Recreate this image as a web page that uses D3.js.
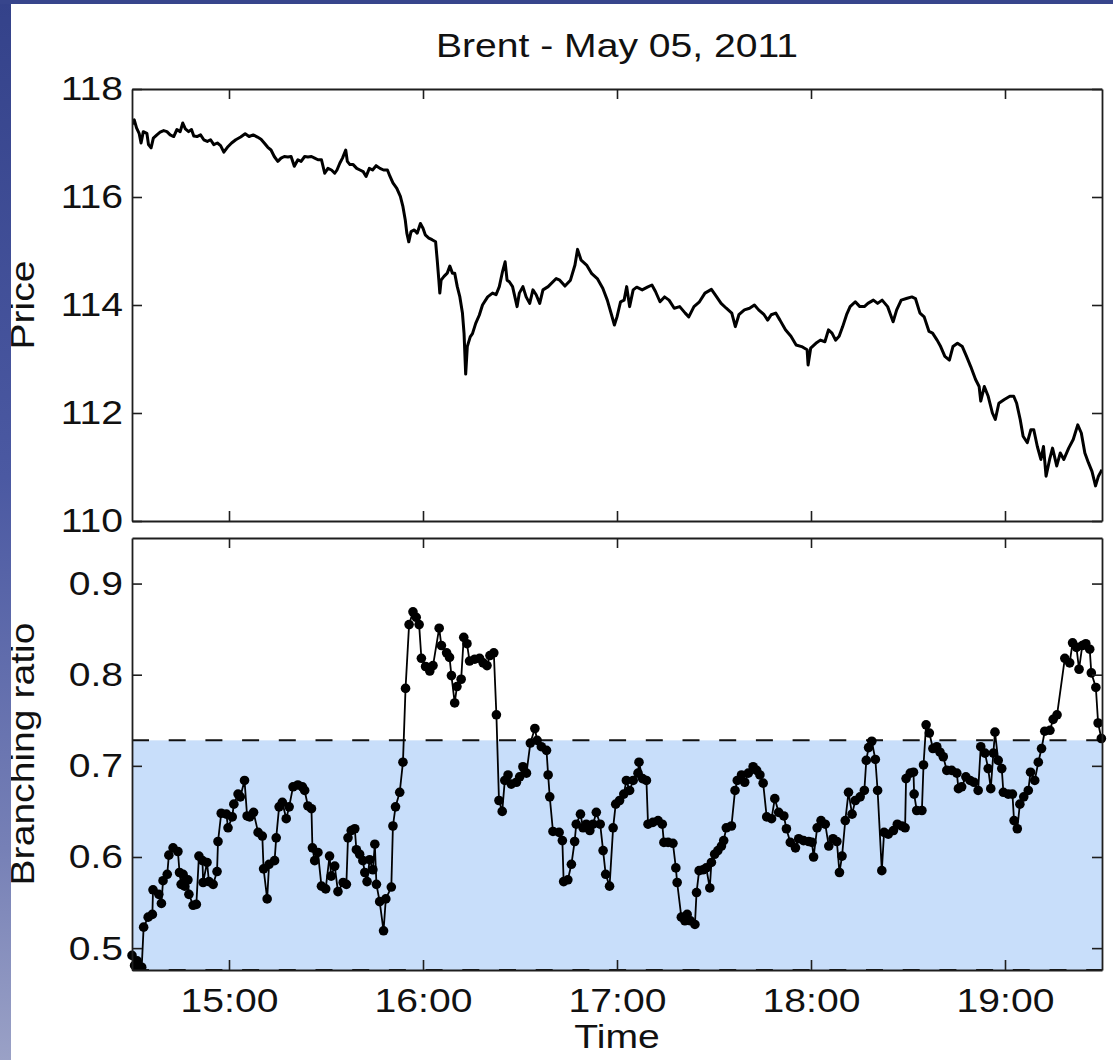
<!DOCTYPE html>
<html>
<head>
<meta charset="utf-8">
<script src="https://cdn.jsdelivr.net/npm/d3@7"></script>
<style>
  html, body { margin: 0; padding: 0; background: #ffffff; }
  svg { display: block; }
  text { font-family: "Liberation Sans", Arial, Helvetica, sans-serif; fill: #111; }
</style>
</head>
<body>
<svg id="chart" width="1113" height="1060"></svg>
<script>
// ---- data -------------------------------------------------------------
// Brent futures price, sampled in minutes after 14:30
const priceMinutes = [
  0, 0.7, 1.4, 2.2, 2.8, 3.5, 4.6, 5.1, 5.9, 6.6, 7.7, 8.7, 9.8, 10.8, 11.8, 12.9, 13.9, 14.9, 15.7, 16.5,
  17.5, 18.4, 19.1, 20.1, 21.2, 22.2, 23.3, 24.3, 25.3, 26.4, 27.4, 28.4, 29.5, 30.8, 32.1, 33.6, 35.0, 36.2, 37.5, 38.8,
  39.9, 40.9, 42.0, 43.0, 44.0, 45.1, 46.1, 47.1, 48.2, 49.2, 50.2, 51.3, 52.3, 53.4, 54.4, 55.5, 56.5, 57.5, 58.6, 59.6,
  60.6, 61.7, 62.7, 63.4, 64.3, 65.1, 66.1, 66.6, 67.4, 68.4, 69.5, 70.5, 71.5, 72.4, 73.4, 74.4, 75.5, 76.7, 77.8, 79.0,
  79.8, 80.7, 81.9, 83.0, 83.8, 84.5, 85.0, 85.6, 86.3, 87.3, 88.2, 89.2, 90.0, 90.7, 91.8, 92.8, 93.9, 94.4, 94.9, 95.2,
  95.6, 96.5, 97.5, 98.3, 99.1, 99.8, 100.6, 101.4, 102.2, 102.7, 103.2, 103.7, 104.6, 105.3, 106.3, 107.4, 108.4, 110.0, 111.5, 112.6,
  113.6, 114.6, 115.4, 116.0, 116.7, 117.7, 119.1, 119.8, 120.9, 121.9, 123.0, 124.0, 125.0, 126.1, 127.1, 128.7, 131.2, 132.3, 133.9, 135.6,
  137.0, 137.8, 138.9, 140.6, 142.2, 143.9, 145.6, 147.0, 148.3, 149.2, 150.0, 151.1, 152.2, 153.0, 153.9, 155.0, 156.1, 157.8, 159.4, 160.8,
  161.9, 163.3, 164.7, 166.1, 167.7, 169.4, 171.1, 172.2, 173.8, 175.5, 177.2, 179.2, 180.5, 182.2, 183.8, 185.5, 186.6, 187.7, 189.4, 191.0,
  192.5, 193.8, 195.5, 196.6, 197.7, 199.1, 200.4, 202.1, 203.8, 205.4, 207.1, 208.8, 209.1, 209.9, 211.5, 212.9, 214.3, 215.4, 216.5, 217.6,
  218.7, 219.8, 221.0, 222.1, 223.7, 225.1, 226.5, 227.6, 229.3, 230.6, 232.0, 233.7, 235.4, 236.5, 237.9, 239.5, 241.2, 242.3, 243.7, 245.0,
  246.5, 247.6, 249.0, 250.1, 251.4, 252.8, 253.9, 255.3, 256.8, 258.1, 259.4, 260.9, 262.0, 262.5, 263.6, 264.8, 266.1, 267.0, 268.1, 269.8,
  271.5, 272.7, 273.6, 274.7, 275.6, 276.9, 278.0, 278.9, 280.0, 281.1, 281.9, 282.7, 283.8, 284.7, 286.0, 287.1, 288.2, 289.7, 291.1, 292.5,
  293.6, 294.7, 295.8, 296.9, 298.0, 298.9, 300.0
];
const priceValues = [
  117.34, 117.43, 117.28, 117.18, 117.00, 117.21, 117.18, 116.97, 116.91, 117.09, 117.15, 117.20, 117.23, 117.21, 117.15, 117.12, 117.25, 117.21, 117.37, 117.26,
  117.21, 117.25, 117.13, 117.12, 117.15, 117.06, 117.03, 117.06, 116.97, 117.00, 116.95, 116.83, 116.92, 117.00, 117.06, 117.11, 117.17, 117.12, 117.15, 117.11,
  117.07, 117.00, 116.92, 116.87, 116.75, 116.66, 116.72, 116.75, 116.74, 116.75, 116.57, 116.69, 116.66, 116.75, 116.74, 116.75, 116.72, 116.69, 116.69, 116.44,
  116.53, 116.50, 116.44, 116.50, 116.63, 116.72, 116.87, 116.66, 116.60, 116.60, 116.53, 116.50, 116.47, 116.38, 116.53, 116.50, 116.58, 116.53, 116.50, 116.50,
  116.38, 116.26, 116.16, 116.01, 115.82, 115.58, 115.33, 115.17, 115.36, 115.39, 115.33, 115.51, 115.42, 115.30, 115.24, 115.21, 115.17, 114.83, 114.46, 114.22,
  114.46, 114.53, 114.59, 114.72, 114.59, 114.59, 114.34, 114.15, 113.85, 113.47, 112.72, 113.23, 113.41, 113.47, 113.66, 113.81, 114.00, 114.15, 114.22, 114.19,
  114.34, 114.62, 114.80, 114.46, 114.43, 114.34, 113.97, 114.22, 114.34, 114.15, 114.03, 114.28, 114.19, 114.03, 114.28, 114.34, 114.49, 114.46, 114.35, 114.46,
  114.74, 115.03, 114.83, 114.74, 114.58, 114.49, 114.31, 114.09, 113.82, 113.63, 113.78, 114.06, 114.09, 114.34, 113.97, 114.28, 114.33, 114.28, 114.33, 114.37,
  114.25, 114.06, 114.15, 114.09, 113.94, 113.97, 113.85, 113.78, 113.97, 114.06, 114.22, 114.29, 114.18, 114.03, 113.94, 113.85, 113.60, 113.82, 113.91, 113.94,
  114.00, 113.91, 113.82, 113.72, 113.82, 113.85, 113.72, 113.54, 113.42, 113.26, 113.23, 113.17, 112.89, 113.20, 113.29, 113.35, 113.32, 113.54, 113.48, 113.35,
  113.42, 113.60, 113.82, 113.97, 114.06, 113.97, 113.97, 114.03, 114.09, 114.03, 114.09, 113.97, 113.69, 113.91, 114.09, 114.12, 114.15, 114.12, 113.85, 113.78,
  113.51, 113.48, 113.35, 113.23, 113.05, 112.98, 113.23, 113.29, 113.23, 113.05, 112.86, 112.62, 112.49, 112.22, 112.49, 112.31, 112.00, 111.88, 112.18, 112.25,
  112.31, 112.31, 112.18, 111.88, 111.57, 111.45, 111.69, 111.69, 111.38, 111.14, 111.38, 110.83, 111.14, 111.35, 111.02, 111.26, 111.14, 111.35, 111.51, 111.78,
  111.63, 111.26, 111.08, 110.92, 110.65, 110.83, 110.95
];

// Estimated branching ratio, minutes after 14:30
const branchMinutes = [
  0.0, 0.8, 1.6, 2.4, 3.0, 3.6, 5.0, 6.3, 6.5, 8.3, 9.1, 9.6, 10.9, 11.4, 12.7, 14.2, 14.7, 15.2, 15.8, 16.3,
  17.3, 17.6, 18.9, 19.9, 20.7, 21.8, 22.0, 23.2, 23.8, 25.1, 26.3, 26.6, 27.6, 29.2, 29.7, 31.0, 31.5, 32.8, 33.5, 34.8,
  35.6, 36.4, 37.6, 39.0, 40.3, 40.7, 41.8, 42.4, 44.1, 44.6, 45.5, 46.5, 47.7, 48.6, 49.8, 51.3, 52.7, 53.4, 54.4, 55.5,
  55.8, 56.5, 57.5, 58.6, 59.9, 61.1, 61.6, 62.7, 63.7, 65.3, 66.3, 66.8, 67.8, 68.9, 69.4, 70.4, 71.4, 72.0, 72.7, 73.5,
  74.5, 75.1, 75.6, 76.6, 77.8, 78.5, 80.2, 80.7, 81.5, 82.8, 83.8, 84.6, 85.7, 86.9, 87.9, 88.8, 89.5, 90.8, 92.1, 93.1,
  95.0, 95.7, 97.3, 98.2, 98.8, 99.8, 100.5, 101.8, 102.6, 103.6, 104.4, 106.0, 107.5, 108.6, 109.8, 110.7, 111.9, 112.7, 113.5, 114.5,
  115.3, 116.3, 117.3, 118.9, 119.9, 120.9, 122.0, 123.2, 124.6, 125.3, 126.6, 128.2, 128.7, 129.2, 130.2, 132.1, 133.1, 133.5, 134.8, 135.9,
  136.9, 137.4, 138.7, 139.5, 140.5, 141.6, 142.6, 143.6, 144.8, 145.7, 146.5, 147.7, 148.8, 149.6, 150.8, 152.1, 152.9, 153.9, 155.0, 156.5,
  156.8, 157.9, 159.1, 159.6, 161.1, 162.7, 164.0, 164.5, 165.8, 167.3, 168.2, 168.6, 169.9, 171.0, 171.7, 172.7, 174.1, 174.6, 175.4, 176.6,
  177.6, 178.7, 179.2, 180.2, 181.2, 182.3, 183.0, 183.8, 185.4, 186.5, 187.2, 188.5, 189.5, 190.6, 192.1, 193.2, 194.2, 195.2, 196.3, 197.8,
  198.8, 200.0, 201.6, 202.4, 203.6, 205.2, 206.2, 207.7, 209.3, 210.3, 210.8, 211.9, 213.1, 214.4, 215.5, 216.8, 218.0, 218.8, 219.6, 220.6,
  221.6, 222.7, 223.7, 225.2, 226.5, 227.1, 227.8, 228.8, 229.9, 230.6, 231.9, 232.6, 233.9, 235.5, 236.7, 238.1, 239.1, 239.4, 240.7, 241.7,
  241.9, 242.7, 244.3, 244.8, 245.6, 246.6, 247.7, 248.9, 249.9, 250.9, 252.0, 253.5, 255.1, 255.6, 256.6, 257.9, 259.2, 260.4, 261.7, 262.5,
  263.8, 264.8, 265.6, 266.4, 266.9, 267.9, 269.0, 269.5, 271.0, 272.3, 272.8, 273.8, 274.6, 275.8, 277.2, 277.9, 279.2, 280.3, 281.3, 282.3,
  283.9, 284.9, 286.1, 288.5, 290.0, 290.9, 292.1, 292.9, 293.9, 295.0, 296.2, 296.7, 298.1, 298.8, 299.8
];
const branchValues = [
  0.492, 0.481, 0.486, 0.477, 0.479, 0.523, 0.534, 0.537, 0.564, 0.559, 0.549, 0.574, 0.581, 0.602, 0.610, 0.606, 0.583, 0.570, 0.581, 0.568,
  0.575, 0.559, 0.547, 0.548, 0.601, 0.596, 0.572, 0.594, 0.573, 0.570, 0.584, 0.617, 0.648, 0.647, 0.632, 0.644, 0.658, 0.669, 0.666, 0.684,
  0.645, 0.644, 0.649, 0.627, 0.623, 0.587, 0.554, 0.592, 0.596, 0.621, 0.655, 0.660, 0.642, 0.655, 0.677, 0.679, 0.677, 0.673, 0.656, 0.653,
  0.610, 0.596, 0.605, 0.568, 0.565, 0.601, 0.579, 0.590, 0.562, 0.572, 0.570, 0.621, 0.629, 0.631, 0.608, 0.603, 0.596, 0.583, 0.573, 0.597,
  0.586, 0.614, 0.570, 0.551, 0.519, 0.554, 0.567, 0.634, 0.655, 0.671, 0.704, 0.785, 0.855, 0.869, 0.863, 0.855, 0.818, 0.809, 0.804, 0.810,
  0.851, 0.832, 0.824, 0.819, 0.799, 0.769, 0.787, 0.795, 0.841, 0.834, 0.815, 0.817, 0.818, 0.813, 0.810, 0.821, 0.824, 0.756, 0.662, 0.650,
  0.684, 0.690, 0.680, 0.682, 0.688, 0.699, 0.692, 0.725, 0.741, 0.728, 0.721, 0.717, 0.690, 0.666, 0.628, 0.627, 0.618, 0.573, 0.575, 0.592,
  0.617, 0.636, 0.647, 0.632, 0.636, 0.629, 0.636, 0.649, 0.636, 0.607, 0.581, 0.568, 0.632, 0.658, 0.662, 0.669, 0.684, 0.673, 0.684, 0.692,
  0.704, 0.686, 0.684, 0.636, 0.638, 0.640, 0.636, 0.616, 0.616, 0.615, 0.588, 0.572, 0.534, 0.530, 0.537, 0.530, 0.526, 0.561, 0.585, 0.586,
  0.588, 0.566, 0.594, 0.603, 0.607, 0.612, 0.618, 0.632, 0.634, 0.673, 0.684, 0.690, 0.682, 0.692, 0.699, 0.695, 0.690, 0.681, 0.644, 0.642,
  0.664, 0.649, 0.645, 0.631, 0.616, 0.610, 0.620, 0.618, 0.617, 0.616, 0.600, 0.632, 0.640, 0.636, 0.612, 0.620, 0.617, 0.583, 0.601, 0.640,
  0.671, 0.647, 0.662, 0.666, 0.673, 0.706, 0.720, 0.727, 0.707, 0.673, 0.585, 0.627, 0.625, 0.629, 0.636, 0.634, 0.632, 0.686, 0.692, 0.693,
  0.669, 0.651, 0.651, 0.701, 0.745, 0.736, 0.719, 0.721, 0.715, 0.710, 0.695, 0.695, 0.692, 0.675, 0.677, 0.688, 0.684, 0.682, 0.673, 0.721,
  0.714, 0.697, 0.675, 0.714, 0.737, 0.706, 0.697, 0.671, 0.669, 0.669, 0.640, 0.631, 0.658, 0.666, 0.673, 0.693, 0.684, 0.704, 0.719, 0.738,
  0.739, 0.751, 0.756, 0.818, 0.813, 0.835, 0.830, 0.806, 0.832, 0.834, 0.828, 0.802, 0.786, 0.747, 0.730
];

const sessionStart = "14:30";
const sessionEnd = "19:30";
const timeTicks = ["15:00", "16:00", "17:00", "18:00", "19:00"];
const priceTicks = [110, 112, 114, 116, 118];
const priceDomain = [110, 118];
const branchTicks = [0.5, 0.6, 0.7, 0.8, 0.9];
const branchDomain = [0.476, 0.95];
const branchBand = [0.476, 0.728];   // shaded range bounded by dashed lines

// ---- layout -----------------------------------------------------------
const W = 1113, H = 1060;
const left = 132, right = 1102;
const top1 = 89, bottom1 = 521;
const top2 = 538, bottom2 = 970;
const FONT = 34, STRETCH = 1.15;

const svg = d3.select("#chart");
const parse = d3.timeParse("%Y-%m-%d %H:%M");
const day = "2011-05-05 ";
const t0 = parse(day + sessionStart);
const toDate = m => new Date(t0.getTime() + m * 60000);

const x = d3.scaleTime()
  .domain([t0, parse(day + sessionEnd)])
  .range([left, right]);
const yPrice = d3.scaleLinear().domain(priceDomain).range([bottom1, top1]);
const yBranch = d3.scaleLinear().domain(branchDomain).range([bottom2, top2]);
const hourTicks = timeTicks.map(s => parse(day + s));

svg.append("rect").attr("width", W).attr("height", H).attr("fill", "#ffffff");

const defs = svg.append("defs");
defs.append("clipPath").attr("id", "clipBottom")
  .append("rect").attr("x", left - 12).attr("y", top2)
  .attr("width", right - left + 24).attr("height", bottom2 - top2);
defs.append("clipPath").attr("id", "clipTop")
  .append("rect").attr("x", left).attr("y", top1)
  .attr("width", right - left).attr("height", bottom1 - top1);

// ---- bottom panel: shaded band, dashed limits ---------------------------
svg.append("rect")
  .attr("x", left).attr("width", right - left)
  .attr("y", yBranch(branchBand[1]))
  .attr("height", yBranch(branchBand[0]) - yBranch(branchBand[1]))
  .attr("fill", "#c8defa");

svg.selectAll("line.limit").data(branchBand).join("line")
  .attr("class", "limit")
  .attr("x1", left).attr("x2", right)
  .attr("y1", d => yBranch(d)).attr("y2", d => yBranch(d))
  .attr("stroke", "#111").attr("stroke-width", 2)
  .attr("stroke-dasharray", "17 19.7");

// ---- price line ----------------------------------------------------------
const priceData = priceMinutes.map((m, i) => ({ t: toDate(m), v: priceValues[i] }));
svg.append("path")
  .datum(priceData)
  .attr("clip-path", "url(#clipTop)")
  .attr("fill", "none")
  .attr("stroke", "#000")
  .attr("stroke-width", 3)
  .attr("stroke-linejoin", "round")
  .attr("d", d3.line().x(d => x(d.t)).y(d => yPrice(d.v)));

// ---- branching ratio line with markers -----------------------------------
const branchData = branchMinutes.map((m, i) => ({ t: toDate(m), v: branchValues[i] }));
const gBranch = svg.append("g").attr("clip-path", "url(#clipBottom)");
gBranch.append("path")
  .datum(branchData)
  .attr("fill", "none")
  .attr("stroke", "#000")
  .attr("stroke-width", 1.8)
  .attr("stroke-linejoin", "round")
  .attr("d", d3.line().x(d => x(d.t)).y(d => yBranch(d.v)));
gBranch.selectAll("circle").data(branchData).join("circle")
  .attr("cx", d => x(d.t)).attr("cy", d => yBranch(d.v))
  .attr("r", 4.8).attr("fill", "#000");

// ---- axes (ticks pointing inward on all four sides) -----------------------
function styleAxis(g) {
  g.selectAll(".domain").attr("stroke", "#1e1e1e").attr("stroke-width", 1.8);
  g.selectAll(".tick line").attr("stroke", "#1e1e1e").attr("stroke-width", 1.6);
  g.selectAll("text")
    .attr("font-size", FONT)
    .attr("fill", "#111")
    .attr("transform", `scale(${STRETCH},1)`);
}
const noLabel = () => "";

// top panel
svg.append("g").attr("transform", `translate(${left},0)`)
  .call(d3.axisLeft(yPrice).tickValues(priceTicks).tickFormat(d3.format("d"))
    .tickSizeInner(-10).tickSizeOuter(0).tickPadding(7.8))
  .call(styleAxis);
svg.append("g").attr("transform", `translate(${right},0)`)
  .call(d3.axisRight(yPrice).tickValues(priceTicks).tickFormat(noLabel)
    .tickSizeInner(-10).tickSizeOuter(0))
  .call(styleAxis);
svg.append("g").attr("transform", `translate(0,${top1})`)
  .call(d3.axisTop(x).tickValues(hourTicks).tickFormat(noLabel)
    .tickSizeInner(-10).tickSizeOuter(0))
  .call(styleAxis);
svg.append("g").attr("transform", `translate(0,${bottom1})`)
  .call(d3.axisBottom(x).tickValues(hourTicks).tickFormat(noLabel)
    .tickSizeInner(-10).tickSizeOuter(0))
  .call(styleAxis);

// bottom panel
svg.append("g").attr("transform", `translate(${left},0)`)
  .call(d3.axisLeft(yBranch).tickValues(branchTicks).tickFormat(d3.format(".1f"))
    .tickSizeInner(-10).tickSizeOuter(0).tickPadding(7.8))
  .call(styleAxis);
svg.append("g").attr("transform", `translate(${right},0)`)
  .call(d3.axisRight(yBranch).tickValues(branchTicks).tickFormat(noLabel)
    .tickSizeInner(-10).tickSizeOuter(0))
  .call(styleAxis);
svg.append("g").attr("transform", `translate(0,${top2})`)
  .call(d3.axisTop(x).tickValues(hourTicks).tickFormat(noLabel)
    .tickSizeInner(-10).tickSizeOuter(0))
  .call(styleAxis);
svg.append("g").attr("transform", `translate(0,${bottom2})`)
  .call(d3.axisBottom(x).tickValues(hourTicks).tickFormat(d3.timeFormat("%H:%M"))
    .tickSizeInner(-10).tickSizeOuter(0).tickPadding(18))
  .call(styleAxis);

// ---- titles --------------------------------------------------------------
function label(txt, cx, cy, rotate) {
  svg.append("text")
    .attr("transform", `translate(${cx},${cy})` + (rotate ? " rotate(-90)" : "") + ` scale(${STRETCH},1)`)
    .attr("text-anchor", "middle")
    .attr("font-size", FONT)
    .text(txt);
}
label("Brent - May 05, 2011", (left + right) / 2, 57, false);
label("Time", (left + right) / 2, 1048, false);
label("Price", 34, (top1 + bottom1) / 2, true);
label("Branching ratio", 34, (top2 + bottom2) / 2, true);

// ---- slide backdrop along the top and left edges --------------------------
const grad = defs.append("linearGradient").attr("id", "edge")
  .attr("x1", 0).attr("y1", 0).attr("x2", 0).attr("y2", 1);
grad.append("stop").attr("offset", 0).attr("stop-color", "#34428a");
grad.append("stop").attr("offset", 0.45).attr("stop-color", "#4b59a2");
grad.append("stop").attr("offset", 0.8).attr("stop-color", "#7680b6");
grad.append("stop").attr("offset", 1).attr("stop-color", "#9aa1c6");
svg.append("rect").attr("x", 0).attr("y", 0).attr("width", 11).attr("height", H).attr("fill", "url(#edge)");
svg.append("rect").attr("x", 0).attr("y", 0).attr("width", W).attr("height", 4).attr("fill", "#37458c");
</script>
</body>
</html>
